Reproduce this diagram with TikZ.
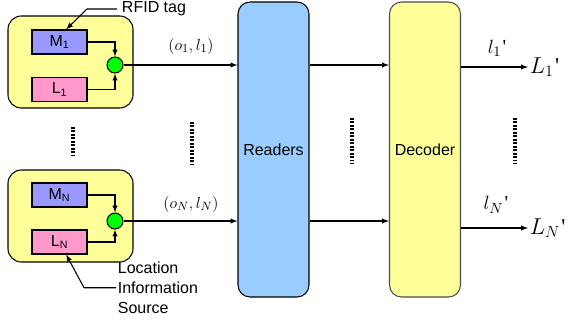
\documentclass[tikz,border=0pt]{standalone}
\usepackage{fontspec}
\setmainfont{Liberation Sans}
\newfontfamily\primefont{Liberation Serif}
\usetikzlibrary{positioning}
\definecolor{tagyellow}{HTML}{FFFF99}
\definecolor{mblue}{HTML}{9999FF}
\definecolor{lpink}{HTML}{FF99CC}
\definecolor{rblue}{HTML}{99CCFF}
\definecolor{cgreen}{HTML}{00FF00}
\newcommand{\pr}{{\primefont\kern1pt'}}

\begin{document}
\begin{tikzpicture}[>=latex,x=0.75pt,y=-0.75pt,line width=0.8pt,
    font=\fontsize{12}{14}\selectfont,
    tagbox/.style={draw,fill=tagyellow,rounded corners=10pt,minimum width=93.75pt,minimum height=69pt},
    mbox/.style={draw,fill=mblue,minimum width=41.25pt,minimum height=18pt,inner sep=0pt},
    lbox/.style={draw,fill=lpink,minimum width=41.25pt,minimum height=18pt,inner sep=0pt},
    joint/.style={circle,draw,fill=cgreen,minimum size=12pt,inner sep=0pt},
    block/.style={draw,rounded corners=9pt,minimum width=53.25pt,minimum height=221.25pt},
    vdots/.style={line width=2.4pt,dash pattern=on 1.4pt off 1.2pt}]
    \useasboundingbox (0,0) rectangle (570,325);

    % tags
    \node[tagbox] (tag1) at (70.5,62) {};
    \node[mbox] (m1) at (59.5,42) {M\textsubscript{1}};
    \node[lbox] (l1) at (59.5,89.5) {L\textsubscript{1}};
    \node[joint] (c1) at (115,65) {};
    \draw[->] (m1.east) -| (c1.north);
    \draw[->] (l1.east) -| (c1.south);

    \node[tagbox] (tagn) at (70.5,216) {};
    \node[mbox] (mn) at (59.5,195) {M\textsubscript{N}};
    \node[lbox] (ln) at (59.5,242) {L\textsubscript{N}};
    \node[joint] (cn) at (115,221) {};
    \draw[->] (mn.east) -| (cn.north);
    \draw[->] (ln.east) -| (cn.south);

    % readers and decoder
    \node[block,fill=rblue] (readers) at (273.5,149.5) {Readers};
    \node[block,fill=tagyellow,draw=black!70] (decoder) at (425,149.5) {Decoder};

    \draw[->] (c1.east) -- (c1 -| readers.west);
    \draw[->] (cn.east) -- (cn -| readers.west);
    \node[font=\fontsize{13}{15}\selectfont] (o1) at (191,46) {$(o_1,l_1)$};
    \node[font=\fontsize{13}{15}\selectfont] (on) at (191,204) {$(o_N,l_N)$};

    \draw[->] (readers.east |- c1) -- (decoder.west |- c1);
    \draw[->] (readers.east |- cn) -- (decoder.west |- cn);

    % outputs
    \node[anchor=west,inner sep=1pt,font=\fontsize{17}{19}\selectfont] (out1) at (528,67) {$L_1$\pr};
    \node[anchor=west,inner sep=1pt,font=\fontsize{17}{19}\selectfont] (outn) at (528,228) {$L_N$\pr};
    \draw[->] (decoder.east |- out1) -- (out1.west);
    \draw[->] (decoder.east |- outn) -- (outn.west);
    \node[font=\fontsize{15}{17}\selectfont] (l1p) at (497,48) {$l_1$\pr};
    \node[font=\fontsize{15}{17}\selectfont] (lnp) at (496,205) {$l_N$\pr};

    % dots
    \draw[vdots] (73,127) -- (73,155);
    \draw[vdots] (192,122) -- (192,164);
    \draw[vdots] (352,118) -- (352,164);
    \draw[vdots] (515,118) -- (515,164);

    % pointers
    \node[anchor=west] (rfid) at (117,9) {RFID tag};
    \draw[->] (rfid.west) -- ++(-30,0) -- ([xshift=5pt]m1.north);
    \node[anchor=north west,align=left,inner sep=1pt,font=\fontsize{12}{15}\selectfont] (loc) at (116,260) {Location\\Information\\Source};
    \draw[->] (loc.west) -- ++(-32,0) -- ([xshift=5pt]ln.south);
\end{tikzpicture}
\end{document}
